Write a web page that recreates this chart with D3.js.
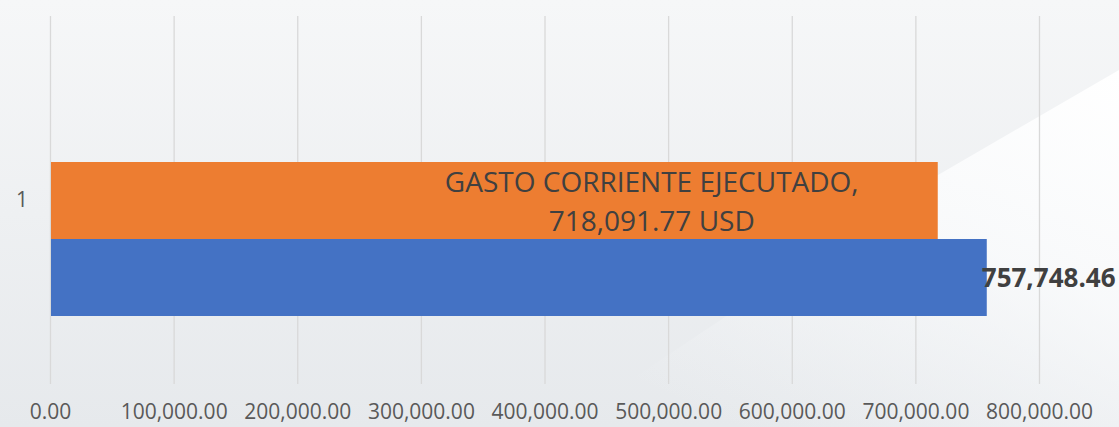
<!DOCTYPE html>
<html>
<head>
<meta charset="utf-8">
<script src="https://cdn.jsdelivr.net/npm/d3@7"></script>
<style>
  body { margin: 0; padding: 0; overflow: hidden; }
  svg { display: block; font-family: "Open Sans", sans-serif; }
</style>
</head>
<body>
<svg id="drawing_region"></svg>
<script>
// data
const categories = ["1"];
const seriesNames = ["GASTO CORRIENTE EJECUTADO", "PRESUPUESTO"];
const seriesValues = [718091.77, 757748.46];
const seriesColors = ["#ED7D31", "#4472C4"];
const xTicks = [0, 100000, 200000, 300000, 400000, 500000, 600000, 700000, 800000];

const config = {
    width: 1119,
    height: 427,
    margin: {top: 16, right: 80, bottom: 43, left: 50}
};

const svg = d3.select('#drawing_region')
    .attr('width', config.width)
    .attr('height', config.height);

// background
const defs = svg.append('defs');
const bg = defs.append('linearGradient').attr('id', 'bg')
    .attr('x1', 0).attr('y1', 0).attr('x2', 0).attr('y2', 1);
bg.append('stop').attr('offset', '0%').attr('stop-color', '#f6f7f8');
bg.append('stop').attr('offset', '100%').attr('stop-color', '#e6e9ec');
const wh = defs.append('linearGradient').attr('id', 'wh')
    .attr('x1', 1).attr('y1', 0).attr('x2', 0.3).attr('y2', 1);
wh.append('stop').attr('offset', '0%').attr('stop-color', '#ffffff').attr('stop-opacity', 1);
wh.append('stop').attr('offset', '45%').attr('stop-color', '#fbfcfd').attr('stop-opacity', 0.8);
wh.append('stop').attr('offset', '100%').attr('stop-color', '#f4f6f8').attr('stop-opacity', 0);

svg.append('rect').attr('width', config.width).attr('height', config.height).attr('fill', 'url(#bg)');
svg.append('path')
    .attr('d', 'M1119,70 L938,175 L560,427 L1119,427 Z')
    .attr('fill', 'url(#wh)');

const plotTop = config.margin.top;
const plotBottom = config.height - config.margin.bottom;

const x = d3.scaleLinear()
    .domain([0, 800000])
    .range([config.margin.left, 1039]);

const yCat = d3.scaleBand()
    .domain(categories)
    .range([plotTop, plotBottom]);

// grid + tick labels
const axis = svg.append('g')
    .attr('transform', `translate(0, ${plotBottom})`)
    .call(d3.axisBottom(x)
        .tickValues(xTicks)
        .tickSizeInner(-(plotBottom - plotTop))
        .tickSizeOuter(0)
        .tickPadding(20)
        .tickFormat(d3.format(",.2f")));
axis.select('.domain').remove();
axis.selectAll('line').attr('stroke', '#d9d9d9').attr('stroke-width', 1.3);
axis.selectAll('text')
    .attr('fill', '#595959')
    .attr('font-size', '21px')
    .attr('font-family', '"Open Sans", sans-serif');

// bars
categories.forEach(cat => {
    const c0 = yCat(cat);
    const ySer = d3.scaleBand()
        .domain(seriesNames)
        .range([c0 + 146, c0 + 300]);

    svg.selectAll('rect.bar')
        .data(seriesNames.map((s, i) => ({name: s, value: seriesValues[i], color: seriesColors[i]})))
        .enter()
        .append('rect')
        .attr('class', 'bar')
        .attr('x', x(0) + 1)
        .attr('y', d => ySer(d.name))
        .attr('width', d => x(d.value) - x(0) - 1)
        .attr('height', ySer.bandwidth())
        .attr('fill', d => d.color);

    // category label
    svg.append('text')
        .attr('x', 28)
        .attr('y', c0 + yCat.bandwidth() / 2 + 7)
        .attr('text-anchor', 'end')
        .attr('font-size', '21px')
        .attr('fill', '#595959')
        .text(cat);

    // callout on orange bar
    const fmt = d3.format(",.2f");
    const o = svg.append('text')
        .attr('text-anchor', 'middle')
        .attr('font-size', '28px')
        .attr('fill', '#404040');
    o.append('tspan')
        .attr('x', x(seriesValues[0]) - 286)
        .attr('y', ySer(seriesNames[0]) + 30)
        .text(seriesNames[0] + ',');
    o.append('tspan')
        .attr('x', x(seriesValues[0]) - 286)
        .attr('y', ySer(seriesNames[0]) + 69)
        .text(fmt(seriesValues[0]) + ' USD');

    // blue bar value
    svg.append('text')
        .attr('x', x(seriesValues[1]) - 5)
        .attr('y', ySer(seriesNames[1]) + 48)
        .attr('font-size', '26px')
        .attr('font-weight', 'bold')
        .attr('fill', '#404040')
        .text(fmt(seriesValues[1]));
});
</script>
</body>
</html>
